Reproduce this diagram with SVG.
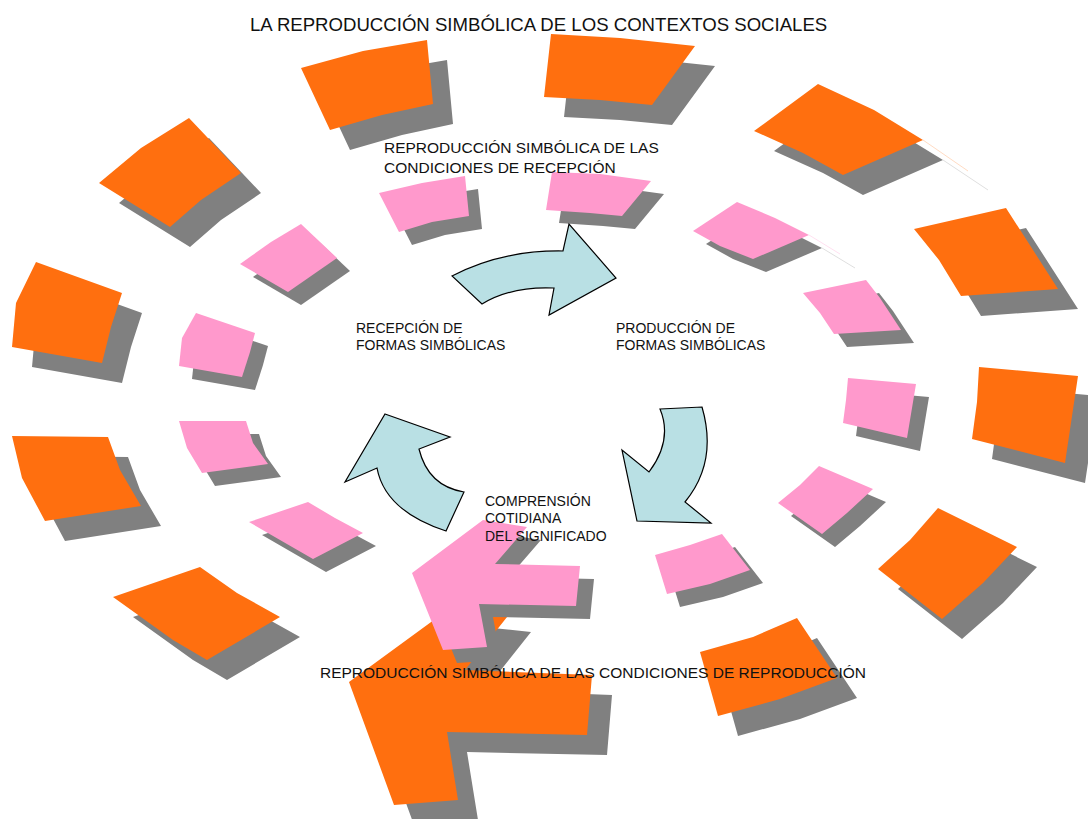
<svg xmlns="http://www.w3.org/2000/svg" xmlns:xlink="http://www.w3.org/1999/xlink" width="1088" height="819" viewBox="0 0 1088 819">
<style>
.or{fill:#ff6f0f}
.pk{fill:#ff99cc}
.sh{fill:#808080}
.cy{fill:#b9e0e4;stroke:#000;stroke-width:1.2;stroke-linejoin:miter}
.t{font-family:"Liberation Sans",Arial,sans-serif;fill:#111}
.faint{fill:none;stroke-width:1}
</style>
<defs>
<polygon id="oA" points="301,68 363,51 427,40 433,104 382,115 330,130"/>
<polygon id="oB" points="551,34 620,38 695,46 652,105 600,100 544,97"/>
<polygon id="oC" points="754,131 818,84 874,110 923,140 843,175 803,153"/>
<polygon id="oD" points="914,229 1006,208 1033,250 1058,289 961,296 939,260"/>
<polygon id="oE" points="979,367 1078,376 1065,463 972,439 977,402"/>
<polygon id="oF" points="878,569 910,540 938,508 1017,547 983,583 942,619"/>
<polygon id="oG" points="700,652 753,637 797,618 837,678 780,699 718,716"/>
<polygon id="oLU" points="99,183 141,148 189,118 241,173 201,200 170,227"/>
<polygon id="oLM" points="36,262 122,293 111,327 102,363 12,347 16,303"/>
<polygon id="oLL" points="12,436 108,437 120,470 141,506 45,521 22,478"/>
<polygon id="oLB" points="113,597 200,567 237,593 280,617 207,660 173,640"/>
<polygon id="oBig" points="349,682 453,606 511,612 465,670 592,675 587,735 447,732 458,800 394,805"/>
<polygon id="p1" points="379,193 422,183 465,176 469,216 432,222 399,232"/>
<polygon id="p2" points="552,172 600,174 651,181 622,216 590,213 546,210"/>
<polygon id="p3" points="693,231 737,202 775,218 809,235 753,259 720,246"/>
<polygon id="p4" points="803,293 866,280 880,298 901,330 834,334 820,313"/>
<polygon id="p5" points="848,378 916,384 907,438 843,423 846,400"/>
<polygon id="p6" points="778,503 800,485 819,466 873,489 847,513 822,534"/>
<polygon id="p7" points="655,555 690,545 722,534 750,570 710,584 667,594"/>
<polygon id="p8" points="249,522 308,502 335,518 363,533 313,559"/>
<polygon id="p9" points="179,421 246,421 253,443 268,464 202,473 187,448"/>
<polygon id="p10" points="196,313 255,333 250,352 242,377 179,366 182,338"/>
<polygon id="p11" points="240,264 271,242 301,224 337,258 288,292"/>
<polygon id="pBig" points="412,573 483,520 527,527 495,564 580,566 576,606 479,604 487,647 443,650"/>
</defs>
<rect width="1088" height="819" fill="#fff"/>

<g id="piece-o-a"><use xlink:href="#oA" class="sh" transform="translate(20,20)"/><use xlink:href="#oA" class="or"/></g>
<g id="piece-o-b"><use xlink:href="#oB" class="sh" transform="translate(20,20)"/><use xlink:href="#oB" class="or"/></g>
<g id="piece-o-c"><use xlink:href="#oC" class="sh" transform="translate(20,20)"/><use xlink:href="#oC" class="or"/>
<line class="faint" x1="923" y1="140" x2="968" y2="171" stroke="#ff6f0f" stroke-opacity="0.25"/>
<line class="faint" x1="943" y1="160" x2="988" y2="190" stroke="#808080" stroke-opacity="0.25"/></g>
<g id="piece-o-d"><use xlink:href="#oD" class="sh" transform="translate(20,20)"/><use xlink:href="#oD" class="or"/></g>
<g id="piece-o-e"><use xlink:href="#oE" class="sh" transform="translate(20,20)"/><use xlink:href="#oE" class="or"/></g>
<g id="piece-o-f"><use xlink:href="#oF" class="sh" transform="translate(20,20)"/><use xlink:href="#oF" class="or"/></g>
<g id="piece-o-g"><use xlink:href="#oG" class="sh" transform="translate(20,20)"/><use xlink:href="#oG" class="or"/></g>
<g id="piece-o-lu"><use xlink:href="#oLU" class="sh" transform="translate(20,20)"/><use xlink:href="#oLU" class="or"/></g>
<g id="piece-o-lm"><use xlink:href="#oLM" class="sh" transform="translate(20,20)"/><use xlink:href="#oLM" class="or"/></g>
<g id="piece-o-ll"><use xlink:href="#oLL" class="sh" transform="translate(20,20)"/><use xlink:href="#oLL" class="or"/></g>
<g id="piece-o-lb"><use xlink:href="#oLB" class="sh" transform="translate(20,20)"/><use xlink:href="#oLB" class="or"/></g>
<g id="piece-o-big"><use xlink:href="#oBig" class="sh" transform="translate(20,20)"/><use xlink:href="#oBig" class="or"/></g>

<g id="piece-p1"><use xlink:href="#p1" class="sh" transform="translate(13,13)"/><use xlink:href="#p1" class="pk"/></g>
<g id="piece-p2"><use xlink:href="#p2" class="sh" transform="translate(13,13)"/><use xlink:href="#p2" class="pk"/></g>
<g id="piece-p3"><use xlink:href="#p3" class="sh" transform="translate(13,13)"/><use xlink:href="#p3" class="pk"/>
<line class="faint" x1="809" y1="235" x2="840" y2="254" stroke="#ff99cc" stroke-opacity="0.3"/>
<line class="faint" x1="822" y1="248" x2="855" y2="268" stroke="#808080" stroke-opacity="0.25"/></g>
<g id="piece-p4"><use xlink:href="#p4" class="sh" transform="translate(13,13)"/><use xlink:href="#p4" class="pk"/></g>
<g id="piece-p5"><use xlink:href="#p5" class="sh" transform="translate(13,13)"/><use xlink:href="#p5" class="pk"/></g>
<g id="piece-p6"><use xlink:href="#p6" class="sh" transform="translate(13,13)"/><use xlink:href="#p6" class="pk"/></g>
<g id="piece-p7"><use xlink:href="#p7" class="sh" transform="translate(13,13)"/><use xlink:href="#p7" class="pk"/></g>
<g id="piece-p8"><use xlink:href="#p8" class="sh" transform="translate(13,13)"/><use xlink:href="#p8" class="pk"/></g>
<g id="piece-p9"><use xlink:href="#p9" class="sh" transform="translate(13,13)"/><use xlink:href="#p9" class="pk"/></g>
<g id="piece-p10"><use xlink:href="#p10" class="sh" transform="translate(13,13)"/><use xlink:href="#p10" class="pk"/></g>
<g id="piece-p11"><use xlink:href="#p11" class="sh" transform="translate(13,13)"/><use xlink:href="#p11" class="pk"/></g>
<g id="piece-p-big"><use xlink:href="#pBig" class="sh" transform="translate(14,13)"/><use xlink:href="#pBig" class="pk"/></g>

<g id="connectors">
<path class="cy" d="M452,276 Q502,250 563,251 L569,224 L616,278 L549,315 L554,288 Q512,286 482,304 Z"/>
<path class="cy" d="M660,409 L702,407 Q718,462 685,502 L711,523 L637,521 L622,450 L649,472 Q673,440 660,409 Z"/>
<path class="cy" d="M385,414 L450,437 L419,449 Q428,486 464,492 L446,531 Q385,511 377,468 L345,482 Z"/>
</g>

<g id="labels">
<text class="t" x="250" y="31" font-size="18.6">LA REPRODUCCIÓN SIMBÓLICA DE LOS CONTEXTOS SOCIALES</text>
<text class="t" x="384" y="153" font-size="15.5">REPRODUCCIÓN SIMBÓLICA DE LAS</text>
<text class="t" x="384" y="173" font-size="15.5">CONDICIONES DE RECEPCIÓN</text>
<text class="t" x="356" y="333" font-size="14">RECEPCIÓN DE</text>
<text class="t" x="356" y="350" font-size="14">FORMAS SIMBÓLICAS</text>
<text class="t" x="616" y="333" font-size="14">PRODUCCIÓN DE</text>
<text class="t" x="616" y="350" font-size="14">FORMAS SIMBÓLICAS</text>
<text class="t" x="485" y="506" font-size="14">COMPRENSIÓN</text>
<text class="t" x="485" y="523" font-size="14">COTIDIANA</text>
<text class="t" x="485" y="541" font-size="14">DEL SIGNIFICADO</text>
<text class="t" x="320" y="678" font-size="15.5">REPRODUCCIÓN SIMBÓLICA DE LAS CONDICIONES DE REPRODUCCIÓN</text>
</g>
</svg>
